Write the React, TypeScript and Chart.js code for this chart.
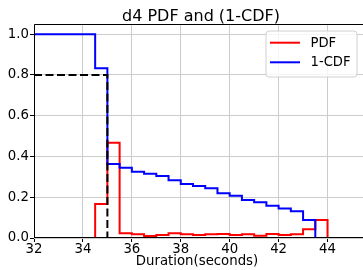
import { useEffect, useRef } from "react";
import { Chart, registerables } from "chart.js";

Chart.register(...registerables);

// ---- data ----
const binEdges = [34.5, 35, 35.5, 36, 36.5, 37, 37.5, 38, 38.5, 39, 39.5, 40, 40.5, 41, 41.5, 42, 42.5, 43, 43.5, 44];
const pdfValues = [0.167, 0.467, 0.023, 0.018, 0.01, 0.015, 0.023, 0.018, 0.015, 0.018, 0.02, 0.015, 0.018, 0.011, 0.02, 0.015, 0.018, 0.043, 0.088];
const cdfValues = [0.833, 0.363, 0.345, 0.325, 0.315, 0.304, 0.283, 0.265, 0.255, 0.244, 0.219, 0.207, 0.186, 0.176, 0.158, 0.145, 0.131, 0.088, 0.0];
const pdfBefore = 0;
const cdfBefore = 1.0;
const dashX = [32, 35, 35];
const dashY = [0.8, 0.8, 0];
const xTicks = [32, 34, 36, 38, 40, 42, 44];
const yTicks = [0, 0.2, 0.4, 0.6, 0.8, 1.0];
const xRange = [32, 45.45];
const yRange = [0, 1.05];
const titleText = "d4 PDF and (1-CDF)";
const xLabelText = "Duration(seconds)";
const seriesLabels = ["PDF", "1-CDF"];
const seriesColors = ["#ff0000", "#0000ff"];

const FONT = "'DejaVu Sans', sans-serif";

function stepPoints(before: number, values: number[]) {
  const pts = [{ x: xRange[0], y: before }];
  values.forEach((v, i) => pts.push({ x: binEdges[i], y: v }));
  pts.push({ x: binEdges[binEdges.length - 1], y: 0 });
  pts.push({ x: xRange[1], y: 0 });
  return pts;
}

const decorPlugin = {
  id: "decor",
  afterDatasetsDraw(chart: any) {
    const { ctx, chartArea } = chart;
    const { left, top, right, bottom } = chartArea;
    ctx.save();
    ctx.strokeStyle = "#000";
    ctx.lineWidth = 1;
    ctx.beginPath();
    ctx.moveTo(Math.round(left) + 0.5, Math.round(top) + 0.5);
    ctx.lineTo(Math.round(left) + 0.5, Math.round(bottom) - 0.5);
    ctx.lineTo(Math.round(right) + 0.5, Math.round(bottom) - 0.5);
    ctx.moveTo(Math.round(left) + 0.5, Math.round(top) + 0.5);
    ctx.lineTo(Math.round(right) + 0.5, Math.round(top) + 0.5);
    ctx.stroke();
    ctx.restore();
  },
  afterDraw(chart: any) {
    const { ctx } = chart;
    ctx.save();
    ctx.fillStyle = "#000";
    // title
    ctx.font = `16px ${FONT}`;
    ctx.textAlign = "center";
    ctx.textBaseline = "alphabetic";
    ctx.fillText(titleText, 201, 21);
    // x label
    ctx.font = `13.3px ${FONT}`;
    ctx.fillText(xLabelText, 197, 264.5);
    // legend
    const bx = 266, by = 31, bw = 91, bh = 46, r = 3;
    ctx.beginPath();
    ctx.moveTo(bx + r, by);
    ctx.lineTo(bx + bw - r, by);
    ctx.arcTo(bx + bw, by, bx + bw, by + r, r);
    ctx.lineTo(bx + bw, by + bh - r);
    ctx.arcTo(bx + bw, by + bh, bx + bw - r, by + bh, r);
    ctx.lineTo(bx + r, by + bh);
    ctx.arcTo(bx, by + bh, bx, by + bh - r, r);
    ctx.lineTo(bx, by + r);
    ctx.arcTo(bx, by, bx + r, by, r);
    ctx.closePath();
    ctx.fillStyle = "rgba(255,255,255,0.8)";
    ctx.fill();
    ctx.strokeStyle = "#d0d0d0";
    ctx.lineWidth = 1;
    ctx.stroke();
    const rows = [42.7, 62.3];
    ctx.font = `13.2px ${FONT}`;
    ctx.textAlign = "left";
    ctx.textBaseline = "middle";
    seriesLabels.forEach((lab, i) => {
      ctx.strokeStyle = seriesColors[i];
      ctx.lineWidth = 2;
      ctx.beginPath();
      ctx.moveTo(270, rows[i]);
      ctx.lineTo(300, rows[i]);
      ctx.stroke();
      ctx.fillStyle = "#000";
      ctx.fillText(lab, 310.5, rows[i] + 0.5);
    });
    ctx.restore();
  },
};

export default function App() {
  const ref = useRef<HTMLCanvasElement | null>(null);
  useEffect(() => {
    if (!ref.current) return;
    const chart = new Chart(ref.current, {
      type: "line",
      data: {
        datasets: [
          {
            label: seriesLabels[0],
            data: stepPoints(pdfBefore, pdfValues),
            borderColor: seriesColors[0],
            borderWidth: 2,
            stepped: "before",
            pointRadius: 0,
            fill: false,
            order: 3,
          },
          {
            label: seriesLabels[1],
            data: stepPoints(cdfBefore, cdfValues),
            borderColor: seriesColors[1],
            borderWidth: 2,
            stepped: "before",
            pointRadius: 0,
            fill: false,
            order: 2,
          },
          {
            label: "dashed",
            data: dashX.map((x, i) => ({ x, y: dashY[i] })),
            borderColor: "#000",
            borderWidth: 2,
            borderDash: [8, 3.5],
            pointRadius: 0,
            fill: false,
            order: 1,
          },
        ],
      },
      options: {
        animation: false,
        responsive: false,
        events: [],
        layout: { padding: { top: 24, left: 0, right: 0, bottom: 0 } },
        plugins: {
          legend: { display: false },
          title: { display: false },
          tooltip: { enabled: false },
        },
        scales: {
          x: {
            type: "linear",
            min: xRange[0],
            max: xRange[1],
            afterFit: (s: any) => {
              s.height = 32;
            },
            afterBuildTicks: (s: any) => {
              s.ticks = xTicks.map((v) => ({ value: v }));
            },
            grid: {
              color: "#cccccc",
              lineWidth: 1,
              drawTicks: true,
              tickLength: 4,
              tickColor: "#000",
            },
            border: { display: false },
            ticks: {
              color: "#000",
              font: { family: FONT, size: 13.3 },
              padding: 0,
              maxRotation: 0,
              autoSkip: false,
              callback: (v: any) => String(v),
            },
          },
          y: {
            type: "linear",
            min: yRange[0],
            max: yRange[1],
            afterFit: (s: any) => {
              s.width = 34;
            },
            afterBuildTicks: (s: any) => {
              s.ticks = yTicks.map((v) => ({ value: v }));
            },
            grid: {
              color: "#cccccc",
              lineWidth: 1,
              drawTicks: true,
              tickLength: 4,
              tickColor: "#000",
            },
            border: { display: false },
            ticks: {
              color: "#000",
              font: { family: FONT, size: 13.3 },
              padding: 1,
              autoSkip: false,
              callback: (v: any) => Number(v).toFixed(1),
            },
          },
        },
      },
      plugins: [decorPlugin],
    });
    return () => chart.destroy();
  }, []);
  return (
    <div style={{ position: "absolute", left: 0, top: 0, width: 363, height: 270, overflow: "hidden", background: "#fff" }}>
      <canvas ref={ref} width={363} height={270} style={{ display: "block" }} />
    </div>
  );
}
